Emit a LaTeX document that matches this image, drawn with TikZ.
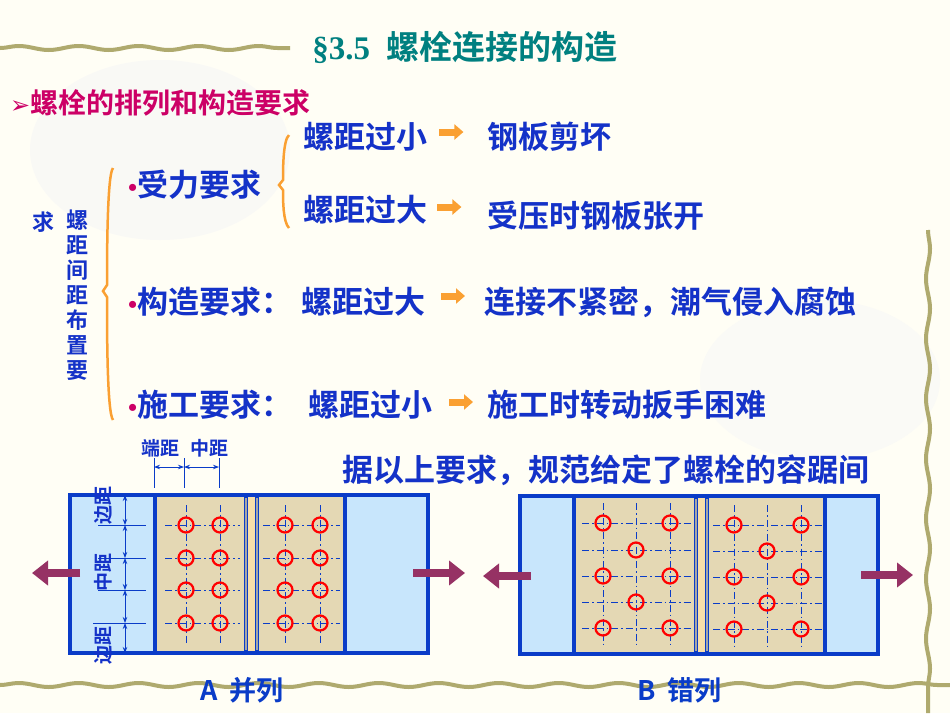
\documentclass[tikz,border=0pt]{standalone}
\usepackage{fontspec}
\setmainfont{Liberation Serif}
\newfontfamily\cjk{Noto Sans CJK SC}[BoldFont={Noto Sans CJK SC Bold}]
\newfontfamily\dejavu{DejaVu Sans}
\usetikzlibrary{arrows.meta,decorations.pathmorphing}
\definecolor{tblue}{RGB}{20,50,200}
\definecolor{dblue}{RGB}{10,60,200}
\definecolor{ltblue}{RGB}{200,230,252}
\definecolor{tan}{RGB}{228,216,180}
\definecolor{gapc}{RGB}{248,222,170}
\definecolor{orng}{RGB}{250,160,50}
\definecolor{purp}{RGB}{150,50,100}
\definecolor{olive}{RGB}{175,170,110}
\definecolor{teal2}{RGB}{0,128,128}
\definecolor{mag}{RGB}{204,0,102}
\newcommand{\bul}{{\rmfamily\color{mag}\fontsize{26}{28}\selectfont •}}
\tikzset{
 txt/.style={font=\cjk\bfseries\fontsize{31}{34}\selectfont, text=tblue, inner sep=0pt, anchor=west},
 small/.style={font=\cjk\bfseries\fontsize{19}{20}\selectfont, text=tblue, inner sep=0pt},
 oarrow/.style={-{Triangle[length=9pt,width=15pt]}, line width=7pt, draw=orng},
 parrow/.style={-{Triangle[length=16pt,width=24pt]}, line width=8pt, draw=purp},
 plate/.style={draw=dblue, line width=3.5pt},
 hole/.style={draw=red, line width=2.2pt, fill=none},
 cl/.style={draw=dblue, line width=0.7pt, dash pattern=on 7pt off 3pt on 1.5pt off 3pt},
 dim/.style={draw=dblue, line width=0.9pt, {Stealth[length=6pt]}-{Stealth[length=6pt]}},
 ext/.style={draw=dblue, line width=0.9pt},
 vine/.style={draw=olive, line width=4pt, decorate, decoration={snake, amplitude=2pt, segment length=60pt}}
}
\begin{document}
\begin{tikzpicture}[x=1pt,y=-1pt]
\fill[white!96!yellow] (0,0) rectangle (950,713);
\useasboundingbox (0,0) rectangle (950,713);
\fill[olive!7] (160,150) ellipse (130 and 90);
\fill[olive!6] (820,380) ellipse (120 and 80);
\draw[vine] (0,48) -- (290,48);
\draw[vine] (928,230) -- (928,713);
\draw[vine] (0,685) -- (950,685);
% title
\node[font=\bfseries\fontsize{33}{35}\selectfont, text=teal2] (title) at (465,47) {§3.5\ \ {\cjk 螺栓连接的构造}};
\node[anchor=west, inner sep=0pt, font=\cjk\bfseries\fontsize{28}{30}\selectfont, text=mag] (sub) at (10,103) {{\dejavu\fontsize{24}{26}\selectfont ➢}螺栓的排列和构造要求};
% braces
\draw[orng, line width=2.5pt] (289,135) .. controls (283,140) and (283,170) .. (283,180) -- (279,185) -- (283,190) .. controls (283,200) and (283,222) .. (289,228);
\draw[orng, line width=2.5pt] (113,168) .. controls (107,175) and (107,260) .. (107,285) -- (103,291) -- (107,297) .. controls (107,330) and (107,412) .. (113,420);
% vertical label
\node[small, font=\cjk\bfseries\fontsize{22}{25}\selectfont, align=center, anchor=north] (vlab) at (77,210) {螺\\距\\间\\距\\布\\置\\要};
\node[small, font=\cjk\bfseries\fontsize{22}{25}\selectfont, anchor=north] (vlab2) at (43,212) {求};
% rows
\node[txt] (r1) at (128,185) {\bul{}受力要求};
\node[txt] (a1) at (303,137) {螺距过小};
\node[txt] (b1) at (487,137) {钢板剪坏};
\draw[oarrow] ([xshift=12pt,yshift=5pt]a1.east) -- ++(24,0);
\node[txt] (a2) at (303,210) {螺距过大};
\node[txt] (b2) at (487,216) {受压时钢板张开};
\draw[oarrow] ([xshift=10pt,yshift=3pt]a2.east) -- ++(24,0);
\node[txt] (r2) at (128,302) {\bul{}构造要求：\hspace{9pt}螺距过大};
\node[txt] (b3) at (484,302) {连接不紧密，潮气侵入腐蚀};
\draw[oarrow] ([xshift=-43pt,yshift=6pt]b3.west) -- ++(24,0);
\node[txt] (r3) at (128,405) {\bul{}施工要求：\hspace{16pt}螺距过小};
\node[txt] (b4) at (487,405) {施工时转动扳手困难};
\draw[oarrow] ([xshift=-38pt,yshift=3pt]b4.west) -- ++(24,0);
\node[txt] (note) at (342,470) {据以上要求，规范给定了螺栓的容踞间};
% ===== diagram A =====
\fill[ltblue] (70,495) rectangle (428,653);
\draw[plate] (70,495) rectangle (428,653);
\fill[gapc] (246,497) rectangle (257,651);
\fill[tan] (155,495) rectangle (246,653);
\fill[tan] (257,495) rectangle (345,653);
\draw[plate] (155,495) rectangle (246,653);
\draw[plate] (257,495) rectangle (345,653);
\draw[gray!70, line width=1.5pt] (246,498) -- (246,650) (257,498) -- (257,650);
\foreach \x in {186,220,285,320} \draw[cl] (\x,505) -- (\x,645);
\foreach \y in {525,558,590,623} {
  \draw[cl] (165,\y) -- (240,\y);
  \draw[cl] (263,\y) -- (340,\y);
}
\foreach \x in {186,220,285,320} \foreach \y in {525,558,590,623} \draw[hole] (\x,\y) circle (7.5);
% dims top
\coordinate (e1t) at (154,458); \coordinate (e1b) at (154,488);
\coordinate (e2t) at (184,458); \coordinate (e2b) at (184,488);
\coordinate (e3t) at (219,458); \coordinate (e3b) at (219,488);
\draw[ext] (e1t) -- (e1b) (e2t) -- (e2b) (e3t) -- (e3b);
\draw[dim] (154,467) -- (184,467);
\draw[dim] (184,467) -- (219,467);
\node[small] (dj) at (160,448) {端距};
\node[small] (zj) at (209,448) {中距};
% dims left
\foreach \y in {525,558,590} \draw[ext] (98,\y) -- (146,\y);
\draw[ext] (93,623) -- (146,623);
\draw[dim] (125,495) -- (125,525);
\draw[dim] (125,525) -- (125,558);
\draw[dim] (125,558) -- (125,590);
\draw[dim] (125,590) -- (125,623);
\draw[dim] (125,623) -- (125,653);
\node[small, rotate=90] (bj1) at (103,505) {边距};
\node[small, rotate=90] (zj2) at (103,572) {中距};
\node[small, rotate=90] (bj2) at (103,645) {边距};
\draw[parrow] (80,573) -- (32,573);
\draw[parrow] (413,573) -- (465,573);
\node[txt, text=dblue, font=\cjk\bfseries\fontsize{27}{29}\selectfont] (labA) at (200,690) {A\ \ 并列};
% ===== diagram B =====
\fill[ltblue] (520,496) rectangle (878,654);
\draw[plate] (520,496) rectangle (878,654);
\fill[gapc] (696,498) rectangle (707,652);
\fill[tan] (574,496) rectangle (696,654);
\fill[tan] (707,496) rectangle (825,654);
\draw[plate] (574,496) rectangle (696,654);
\draw[plate] (707,496) rectangle (825,654);
\draw[gray!70, line width=1.5pt] (696,499) -- (696,651) (707,499) -- (707,651);
\foreach \x in {603,636,670} \draw[cl] (\x,503) -- (\x,645);
\foreach \x in {734,767,801} \draw[cl] (\x,505) -- (\x,646);
\foreach \y in {523,550,576,602,628} \draw[cl] (582,\y) -- (692,\y);
\foreach \y in {525,551,577,603,629} \draw[cl] (713,\y) -- (822,\y);
\foreach \y in {523,576,628} { \draw[hole] (603,\y) circle (7.5); \draw[hole] (670,\y) circle (7.5); }
\foreach \y in {550,602} \draw[hole] (636,\y) circle (7.5);
\foreach \y in {525,577,629} { \draw[hole] (734,\y) circle (7.5); \draw[hole] (801,\y) circle (7.5); }
\foreach \y in {551,603} \draw[hole] (767,\y) circle (7.5);
\draw[parrow] (531,576) -- (483,576);
\draw[parrow] (861,575) -- (913,575);
\node[txt, text=dblue, font=\cjk\bfseries\fontsize{27}{29}\selectfont] (labB) at (637,690) {B\ \ 错列};
\end{tikzpicture}
\end{document}
